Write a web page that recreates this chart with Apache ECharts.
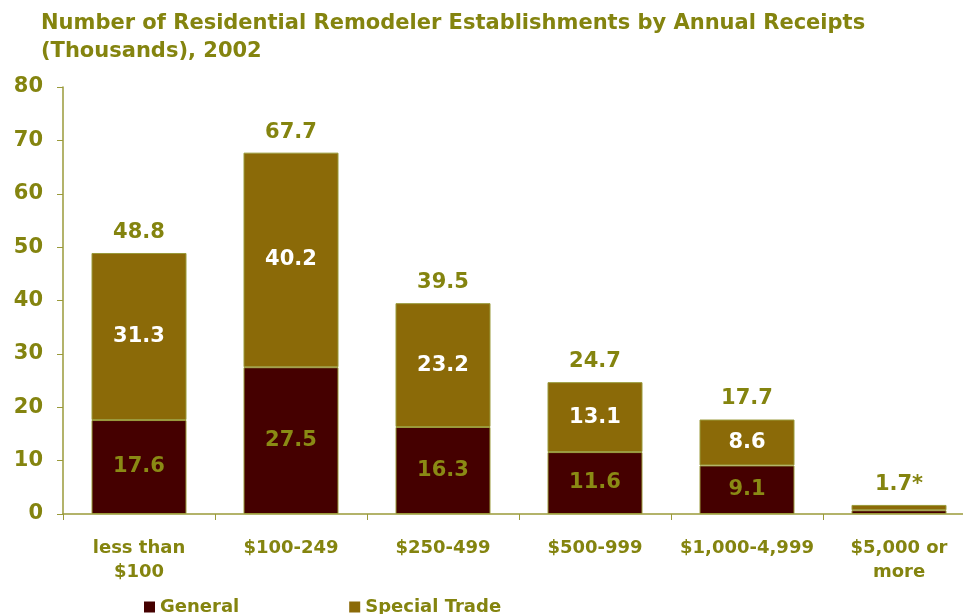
<!DOCTYPE html>
<html><head><meta charset="utf-8">
<script src="https://cdn.jsdelivr.net/npm/echarts@6/dist/echarts.min.js"></script>
<style>html,body{margin:0;padding:0;background:#fff}#c{width:963px;height:614px}</style>
</head><body><div id="c"></div>
<script>
const categories = ['less than\n$100', '$100-249', '$250-499', '$500-999', '$1,000-4,999', '$5,000 or\nmore'];
const generalValues = [17.6, 27.5, 16.3, 11.6, 9.1, 0.7];
const specialValues = [31.3, 40.2, 23.2, 13.1, 8.6, 1.0];
const totalLabels = ['48.8', '67.7', '39.5', '24.7', '17.7', '1.7*'];
const yTicks = [0, 10, 20, 30, 40, 50, 60, 70, 80];

const olive = '#84840f';
const font = 'DejaVu Sans, Verdana, sans-serif';
const chart = echarts.init(document.getElementById('c'), null, {renderer: 'canvas'});
chart.setOption({
  animation: false,
  title: {
    text: 'Number of Residential Remodeler Establishments by Annual Receipts\n(Thousands), 2002',
    left: 36, top: 5,
    textStyle: {fontFamily: font, fontSize: 21, fontWeight: 'bold', color: olive, lineHeight: 28}
  },
  legend: {
    data: ['General', 'Special Trade'],
    left: 139, top: 593, itemGap: 110, itemWidth: 11, itemHeight: 11, icon: 'rect',
    itemStyle: {borderWidth: 0},
    textStyle: {fontFamily: font, fontSize: 18, fontWeight: 'bold', color: olive}
  },
  grid: {left: 63, width: 912, top: 87, bottom: 100, containLabel: false, outerBoundsMode: 'none'},
  xAxis: {
    type: 'category', data: categories,
    axisLine: {lineStyle: {color: '#9a9a3a', width: 1.5}},
    axisTick: {show: true, length: 6, lineStyle: {color: '#9a9a3a'}},
    axisLabel: {fontFamily: font, fontSize: 18, fontWeight: 'bold', color: olive, margin: 22, lineHeight: 24, interval: 0}
  },
  yAxis: {
    type: 'value', min: yTicks[0], max: yTicks[yTicks.length - 1], interval: 10,
    axisLine: {show: true, lineStyle: {color: '#9a9a3a', width: 1.5}},
    axisTick: {show: true, length: 6, lineStyle: {color: '#9a9a3a'}},
    splitLine: {show: false},
    axisLabel: {fontFamily: font, fontSize: 21, fontWeight: 'bold', color: olive, margin: 20}
  },
  series: [
    {
      name: 'General', type: 'bar', stack: 's', data: generalValues, barWidth: 95,
      itemStyle: {color: '#450000', borderColor: '#9a9a3a', borderWidth: 1},
      label: {show: true, position: 'inside', fontFamily: font, fontSize: 21, fontWeight: 'bold', color: '#8a8a14',
        formatter: p => p.dataIndex === 5 ? '' : p.value.toFixed(1)}
    },
    {
      name: 'Special Trade', type: 'bar', stack: 's', data: specialValues, barWidth: 95,
      itemStyle: {color: '#8b6a08', borderColor: '#9a9a3a', borderWidth: 1},
      label: {show: true, position: 'inside', fontFamily: font, fontSize: 21, fontWeight: 'bold', color: '#ffffff',
        formatter: p => p.dataIndex === 5 ? '' : p.value.toFixed(1)}
    },
    {
      name: 'Total', type: 'bar', stack: 's', data: categories.map(() => 0), barWidth: 95,
      itemStyle: {color: 'transparent'},
      label: {show: true, position: 'top', distance: 10, fontFamily: font, fontSize: 21, fontWeight: 'bold', color: olive,
        formatter: p => totalLabels[p.dataIndex]}
    }
  ]
});
</script></body></html>
